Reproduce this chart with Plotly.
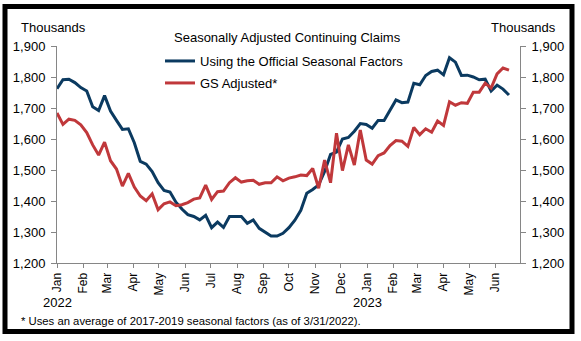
import pandas as pd
import plotly.graph_objects as go

# Weekly data, first week 2022-01-01
start_date = "2022-01-01"
official_sa = [
    1762, 1791, 1793, 1782, 1766, 1755, 1704, 1692, 1740, 1690,
    1660, 1631, 1633, 1588, 1528, 1519, 1495, 1459, 1434, 1429,
    1396, 1374, 1356, 1350, 1339, 1354, 1314, 1332, 1315, 1350,
    1350, 1350, 1328, 1339, 1312, 1299, 1287, 1287, 1296, 1314,
    1338, 1370, 1425, 1437, 1452, 1495, 1550, 1558, 1600, 1605,
    1625, 1650, 1647, 1635, 1660, 1660, 1691, 1726, 1717, 1719,
    1780, 1775, 1805, 1818, 1822, 1807, 1862, 1848, 1805, 1806,
    1800, 1791, 1793, 1755, 1774, 1761, 1742,
]
gs_adjusted = [
    1684, 1647, 1664, 1660, 1646, 1621, 1581, 1548, 1590, 1530,
    1503, 1448, 1489, 1445, 1416, 1401, 1423, 1372, 1391, 1397,
    1385, 1388, 1395, 1406, 1410, 1451, 1405, 1430, 1432, 1459,
    1475, 1461, 1465, 1467, 1454, 1459, 1459, 1478, 1465, 1474,
    1478, 1484, 1482, 1505, 1441, 1532, 1459, 1619, 1498, 1581,
    1516, 1629, 1532, 1519, 1546, 1555, 1579, 1595, 1593, 1576,
    1637, 1614, 1633, 1622, 1658, 1644, 1720, 1709, 1717, 1715,
    1751, 1751, 1780, 1764, 1810, 1829, 1822,
]
dates = pd.date_range(start_date, periods=len(official_sa), freq="7D")

month_ticks = pd.date_range("2022-01-01", "2023-06-01", freq="MS")
month_labels = [d.strftime("%b") for d in month_ticks]
y_ticks = [1200, 1300, 1400, 1500, 1600, 1700, 1800, 1900]
y_labels = [f"{v:,}" for v in y_ticks]

FONT = "Arial, Liberation Sans, sans-serif"
BLUE = "#0B3A60"
RED = "#C0383B"
AXIS = "#868686"

fig = go.Figure()
fig.add_trace(go.Scatter(x=dates, y=official_sa, mode="lines",
                         name="Using the Official Seasonal Factors",
                         line=dict(color=BLUE, width=3), legend="legend"))
fig.add_trace(go.Scatter(x=dates, y=gs_adjusted, mode="lines",
                         name="GS Adjusted*", yaxis="y2",
                         line=dict(color=RED, width=3), legend="legend2"))

W, H = 581, 341
L, R, T, B = 57, 61, 46, 78
pw, ph = W - L - R, H - T - B

def px(x):
    return (x - L) / pw

def py(y):
    return (H - B - y) / ph

yax = dict(range=[1200, 1900], tickvals=y_ticks, ticktext=y_labels,
           showgrid=False, zeroline=False, showline=True, linecolor=AXIS,
           linewidth=1, ticks="outside", ticklen=5, tickcolor=AXIS,
           ticklabelstandoff=3,
           tickfont=dict(family=FONT, size=13, color="#000"), fixedrange=True)

fig.update_layout(
    width=W, height=H,
    margin=dict(l=L, r=R, t=T, b=B),
    paper_bgcolor="white", plot_bgcolor="white",
    font=dict(family=FONT, size=13, color="#000"),
    xaxis=dict(range=["2022-01-01", "2023-06-30"], tickvals=month_ticks,
               ticktext=month_labels, tickangle=-90, showgrid=False,
               zeroline=False, showline=True, linecolor=AXIS, linewidth=1,
               ticks="outside", ticklen=4, tickcolor=AXIS,
               tickfont=dict(family=FONT, size=12, color="#000")),
    yaxis=yax,
    yaxis2=dict(yax, overlaying="y", side="right", anchor="x"),
    showlegend=True,
    legend=dict(x=px(160), y=py(61), xanchor="left", yanchor="middle",
                bgcolor="rgba(0,0,0,0)", font=dict(family=FONT, size=13)),
    legend2=dict(x=px(160), y=py(83), xanchor="left", yanchor="middle",
                 bgcolor="rgba(0,0,0,0)", font=dict(family=FONT, size=13)),
)

ann = [
    dict(text="Seasonally Adjusted Continuing Claims", x=px(172), y=py(38),
         xanchor="left", yanchor="middle"),
    dict(text="Thousands", x=px(19), y=py(27), xanchor="left", yanchor="middle"),
    dict(text="Thousands", x=px(558), y=py(27), xanchor="right", yanchor="middle"),
    dict(text="* Uses an average of 2017-2019 seasonal factors (as of 3/31/2022).",
         x=px(19), y=py(321), xanchor="left", yanchor="middle",
         font=dict(size=11.3)),
]
for a in ann:
    a.setdefault("font", dict(size=13))
    fig.add_annotation(xref="paper", yref="paper", showarrow=False, **a)

for yr, d in [("2022", "2022-01-01"), ("2023", "2023-01-01")]:
    fig.add_annotation(xref="x", yref="paper", x=d, y=py(302), text=yr,
                       showarrow=False, xanchor="center", yanchor="middle",
                       font=dict(size=13))

fig.add_shape(type="rect", xref="paper", yref="paper",
              x0=px(5), x1=px(572), y0=py(331.5), y1=py(6.5),
              line=dict(color="black", width=5), fillcolor="rgba(0,0,0,0)",
              layer="above")

fig.write_html("out.html", config=dict(displayModeBar=False))
